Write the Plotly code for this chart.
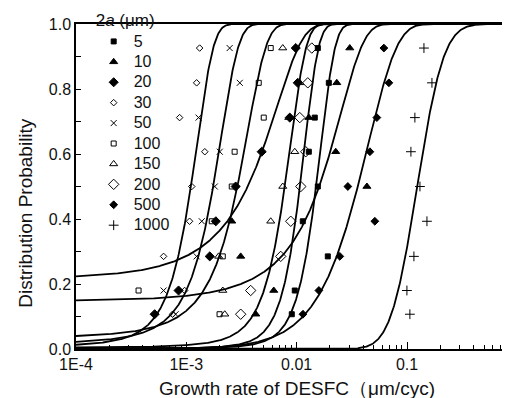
import math
import numpy as np
import plotly.graph_objects as go

# ---------------- data ----------------
levels = [0.926, 0.819, 0.712, 0.607, 0.5, 0.393, 0.285, 0.18, 0.107]

sizes = ["5", "10", "20", "30", "50", "100", "150", "200", "500", "1000"]

rate_5 = [0.01555, 0.01956, 0.01459, 0.01288, 0.01555, 0.01136, 0.01915, 0.00961, 0.00903]
rate_10 = [0.0303, 0.0231, 0.0129, 0.0226, 0.0433, 0.00258, 0.00311, 0.0062, 0.00426]
rate_20 = [0.00981, 0.01023, 0.00866, 0.00482, 0.0028, 0.00185, 0.00163, 0.00085, 0.000516]
rate_30 = [0.00132, 0.00124, 0.000869, 0.00147, 0.00112, 0.00107, 0.000622, 0.000965, 0.000751]
rate_50 = [0.00247, 0.00305, 0.00129, 0.00201, 0.00181, 0.00138, 0.00124, 0.000622, 0.0008]
rate_100 = [0.00582, 0.00453, 0.00503, 0.00274, 0.00258, 0.0017, 0.00214, 0.000369, 0.002]
rate_150 = [0.00748, 0.01067, 0.00848, 0.00961, 0.00748, 0.00582, 0.00196, 0.00214, 0.00223]
rate_200 = [0.01371, 0.01261, 0.01067, 0.01209, 0.0109, 0.00884, 0.00717, 0.00383, 0.00311]
rate_500 = [0.0617, 0.0685, 0.0533, 0.0461, 0.0291, 0.0511, 0.0246, 0.0159, 0.0114]
rate_1000 = [0.1424, 0.1683, 0.1179, 0.1085, 0.131, 0.1516, 0.1155, 0.0998, 0.1062]

rates = [rate_5, rate_10, rate_20, rate_30, rate_50, rate_100, rate_150, rate_200, rate_500, rate_1000]

# fitted distribution curves (model, parameter 1, parameter 2)
curve_model = ["normal", "normal", "normal", "normal", "normal", "normal", "normal", "normal", "weibull", "lognormal"]
curve_p1 = [0.0150, 0.0160, 0.0036, 0.00110, 0.00175, 0.0029, 0.0078, 0.0107, 1.65, 0.1238]
curve_p2 = [0.0050, 0.0153, 0.0046, 0.00045, 0.00082, 0.00160, 0.0030, 0.0035, 0.0447, 0.435]

x_ticks = [1e-4, 1e-3, 1e-2, 1e-1, 1]
x_ticklabels = ["1E-4", "1E-3", "0.01", "0.1", "1"]

# ---------------- styles ----------------
symbols = ["square", "triangle-up", "diamond", "diamond-open", "x-thin-open",
           "square-open", "triangle-up-open", "diamond-open", "diamond", "cross-thin-open"]
msizes = [5, 7, 7, 5, 6, 5, 7, 8, 6, 7]

FONT = "Liberation Sans, Arial, sans-serif"

_erf = np.frompyfunc(math.erf, 1, 1)


def cdf(x, model, a, b):
    if model == "normal":
        return 0.5 * (1 + _erf((x - a) / (b * math.sqrt(2))).astype(float))
    if model == "lognormal":
        return 0.5 * (1 + _erf((np.log(x) - math.log(a)) / (b * math.sqrt(2))).astype(float))
    # weibull: a = shape, b = scale
    return 1 - np.exp(-(x / b) ** a)


fig = go.Figure()

xs = np.logspace(-4, 0, 800)
for m, a, b in zip(curve_model, curve_p1, curve_p2):
    fig.add_trace(go.Scatter(x=xs, y=cdf(xs, m, a, b), mode="lines",
                             line=dict(color="black", width=1.8),
                             showlegend=False, hoverinfo="skip"))

for name, r, s, ms in zip(sizes, rates, symbols, msizes):
    fig.add_trace(go.Scatter(x=r, y=levels, mode="markers",
                             name='<span style="font-size:16px">%s</span>' % name,
                             marker=dict(symbol=s, size=ms, color="black",
                                         line=dict(color="black", width=1))))

minor_vals = [m * 10.0 ** e for e in range(-4, 0) for m in range(2, 10)]

fig.update_layout(
    width=510, height=398,
    margin=dict(l=68, r=0, t=15, b=57),
    paper_bgcolor="white", plot_bgcolor="white",
    font=dict(family=FONT, size=16, color="#111"),
    showlegend=True,
    legend=dict(x=0.04, y=1.05, xanchor="left", yanchor="top", maxheight=380,
                bgcolor="rgba(0,0,0,0)", font=dict(size=13.4, family=FONT, color="#111"),
                title=dict(text='<span style="font-size:17px">2<i>a</i> (μm)</span>',
                           font=dict(size=14, family=FONT, color="#111")),
                tracegroupgap=0, itemwidth=30),
    xaxis=dict(type="log", range=[-4, 0.006], tickvals=x_ticks, ticktext=x_ticklabels,
               ticks="inside", ticklen=7, tickwidth=1, tickcolor="black",
               showline=True, linecolor="black", linewidth=1.5, mirror=True,
               showgrid=False, zeroline=False,
               tickfont=dict(size=16, family=FONT, color="#111"),
               minor=dict(tickvals=minor_vals, ticks="inside", ticklen=4,
                          tickcolor="black", showgrid=False),
               title=dict(text="Growth rate of DESFC（μm/cyc)",
                          font=dict(size=19, family=FONT, color="#111"), standoff=10)),
    yaxis=dict(range=[0, 1], dtick=0.2, tickformat=".1f",
               ticks="inside", ticklen=5, tickwidth=1, tickcolor="black",
               showline=True, linecolor="black", linewidth=1.5,
               showgrid=False, zeroline=False,
               tickfont=dict(size=16, family=FONT, color="#111"),
               minor=dict(dtick=0.1, ticks="inside", ticklen=5, tickcolor="black", showgrid=False)),
    annotations=[dict(text="Distribution Probability", textangle=-90,
                      xref="paper", yref="paper", x=-0.115, y=0.42,
                      xanchor="center", yanchor="middle", showarrow=False,
                      font=dict(size=19, family=FONT, color="#111"))],
)

fig.write_html("out.html")
